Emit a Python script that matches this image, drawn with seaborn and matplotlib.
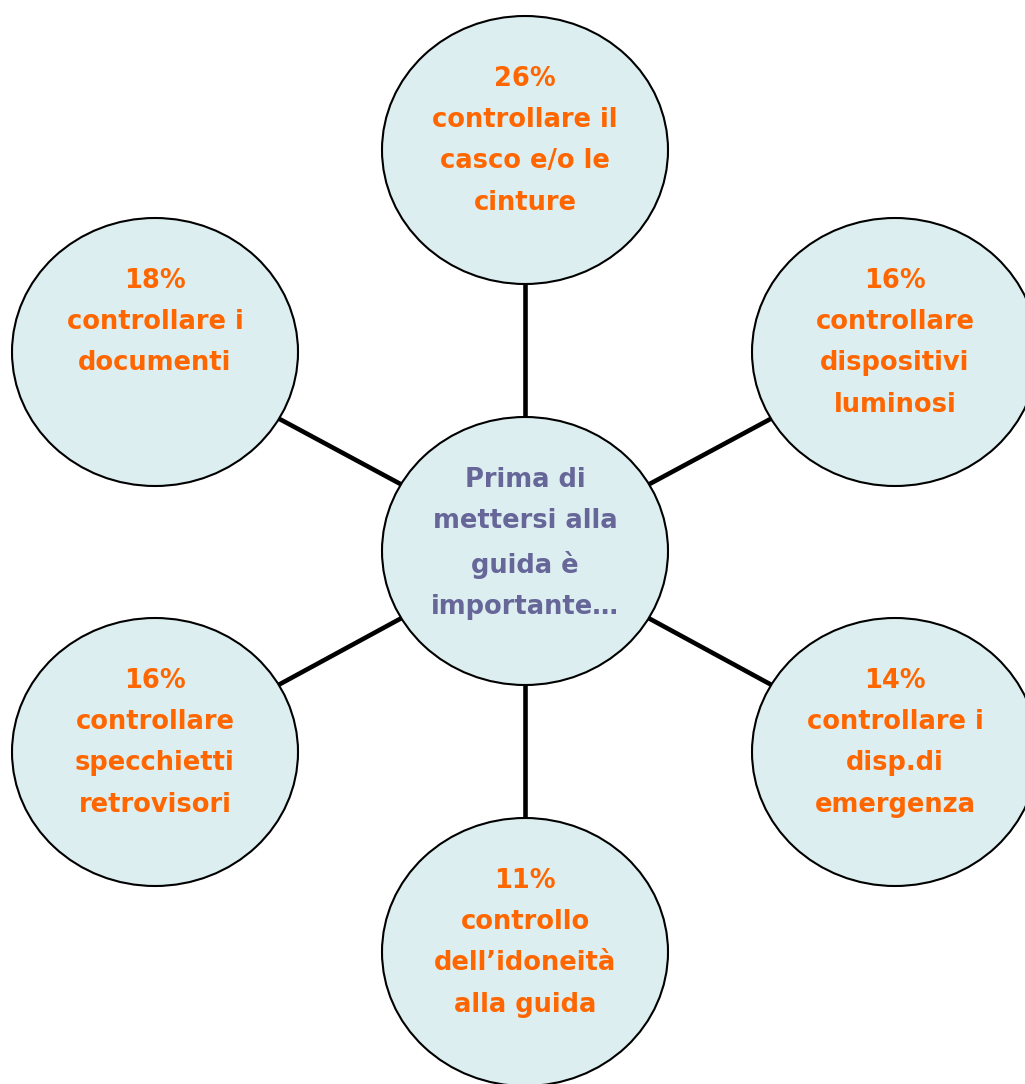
import matplotlib
matplotlib.use("Agg")
import matplotlib.pyplot as plt
from matplotlib.patches import Ellipse
import seaborn as sns

# --- Data ---
center_text = "Prima di\nmettersi alla\nguida è\nimportante…"
percentages = [26, 16, 14, 11, 16, 18]
items = [
    "controllare il\ncasco e/o le\ncinture",
    "controllare\ndispositivi\nluminosi",
    "controllare i\ndisp.di\nemergenza",
    "controllo\ndell’idoneità\nalla guida",
    "controllare\nspecchietti\nretrovisori",
    "controllare i\ndocumenti",
]

# --- Layout (pixel space) ---
W, H = 1025, 1084
hub = (525, 551)
node_pos = [(525, 150), (895, 352), (895, 752), (525, 952), (155, 752), (155, 352)]
RX, RY = 143, 134

FILL = "#DCEEEF"
ORANGE = "#FF6600"
PURPLE = "#666699"

sns.set_theme(style="white")
plt.rcParams["font.family"] = ["DejaVu Sans"]

fig = plt.figure(figsize=(W / 100, H / 100), dpi=100)
ax = fig.add_axes([0, 0, 1, 1])
ax.set_xlim(0, W)
ax.set_ylim(H, 0)
ax.axis("off")

# spokes, drawn under the circles
for (x, y) in node_pos:
    sns.lineplot(x=[hub[0], x], y=[hub[1], y], color="black", linewidth=3.3,
                 sort=False, estimator=None, errorbar=None, ax=ax, zorder=1)

def bubble(cx, cy, text, color):
    ax.add_patch(Ellipse((cx, cy), 2 * RX, 2 * RY, facecolor=FILL,
                         edgecolor="black", linewidth=1.5, zorder=2))
    ax.text(cx, cy - 84, text, ha="center", va="top", color=color,
            fontsize=18.5, fontweight="bold", linespacing=1.76, zorder=3)

bubble(hub[0], hub[1], center_text, PURPLE)
for (x, y), p, lab in zip(node_pos, percentages, items):
    bubble(x, y, f"{p}%\n{lab}", ORANGE)

fig.savefig("out.png", dpi=100)
